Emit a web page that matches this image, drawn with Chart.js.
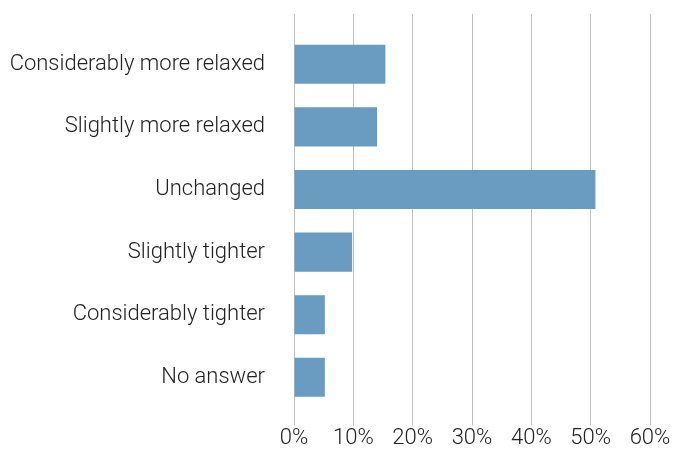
<!DOCTYPE html>
<html>
<head>
<meta charset="utf-8">
<script src="https://cdn.jsdelivr.net/npm/chart.js@4/dist/chart.umd.min.js"></script>
<style>
  html, body { margin: 0; padding: 0; background: #fff; }
  #wrap { width: 675px; height: 452px; position: relative; }
</style>
</head>
<body>
<div id="wrap"><canvas id="myChart"></canvas></div>
<script>
var categories = [
  "Considerably more relaxed",
  "Slightly more relaxed",
  "Unchanged",
  "Slightly tighter",
  "Considerably tighter",
  "No answer"
];
var shares = [15.4, 14.0, 50.8, 9.8, 5.2, 5.2];
var xTicks = [0, 10, 20, 30, 40, 50, 60];

var gridColor = "rgba(0, 0, 0, 0.25)";
var labelFont = { family: "Roboto", size: 22, weight: "300" };

var ctx = document.getElementById("myChart").getContext("2d");
var myChart = new Chart(ctx, {
  type: "bar",
  data: {
    labels: categories,
    datasets: [
      {
        data: shares,
        backgroundColor: "#6a9bc0",
        borderWidth: 0,
        categoryPercentage: 1,
        barPercentage: 0.625,
      },
    ],
  },
  options: {
    indexAxis: "y",
    responsive: true,
    maintainAspectRatio: false,
    animation: false,
    layout: { padding: { left: 10, right: 25, top: 14, bottom: 0 } },
    plugins: {
      legend: { display: false },
      tooltip: { enabled: false },
    },
    scales: {
      x: {
        min: xTicks[0],
        max: xTicks[xTicks.length - 1],
        afterBuildTicks: function (axis) {
          axis.ticks = xTicks.map(function (v) { return { value: v }; });
        },
        grid: { color: gridColor, lineWidth: 1, tickLength: 17, drawTicks: true },
        border: { display: false },
        ticks: {
          color: "#222",
          font: labelFont,
          padding: 0,
          callback: function (v) { return v + "%"; },
        },
      },
      // top axis only carries the gridlines up past the first bar
      xTop: {
        position: "top",
        min: xTicks[0],
        max: xTicks[xTicks.length - 1],
        afterBuildTicks: function (axis) {
          axis.ticks = xTicks.map(function (v) { return { value: v }; });
        },
        grid: { color: gridColor, lineWidth: 1, tickLength: 19, drawOnChartArea: false },
        border: { display: false },
        ticks: { display: false },
      },
      y: {
        grid: { display: false, drawTicks: false },
        border: { display: false },
        ticks: { color: "#222", font: labelFont, padding: 29 },
        afterFit: function (axis) {
          // labels + gap; don't let the label padding push the plot area in vertically
          axis.width = 284;
          axis.paddingTop = 0;
          axis.paddingBottom = 0;
        },
      },
    },
  },
});
</script>
</body>
</html>
